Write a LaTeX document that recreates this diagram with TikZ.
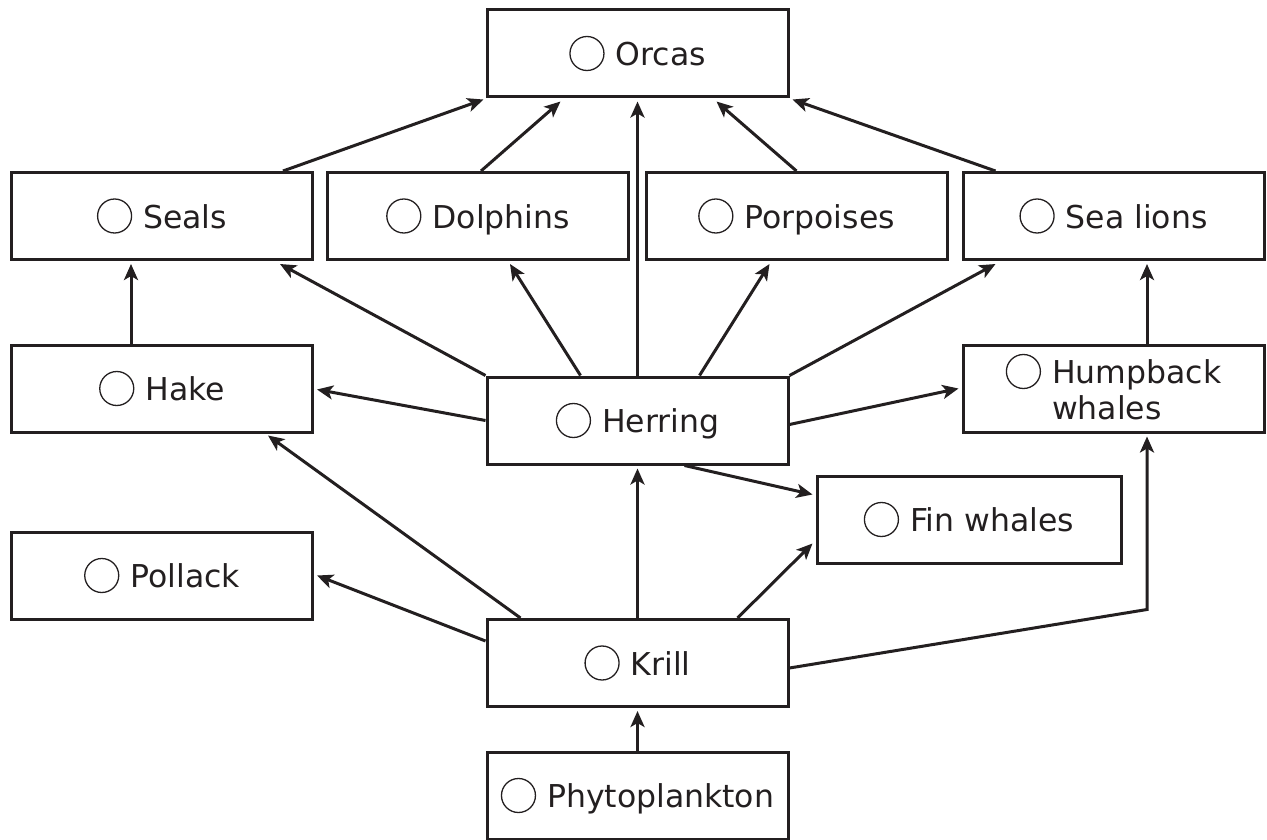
\documentclass[tikz,border=0pt]{standalone}
\usepackage{fontspec}
\setmainfont{DejaVu Sans}
\usetikzlibrary{arrows.meta,calc}
\definecolor{ink}{RGB}{35,31,32}
\newsavebox\circbox
\sbox\circbox{\tikz[baseline=0pt]{\draw[ink,line width=1.3pt] (0,12pt) circle[radius=17pt];}}
\newcommand\lbl[1]{\usebox\circbox\hspace{11pt}#1}
\begin{document}
\begin{tikzpicture}[x=1pt,y=-1pt,
  box/.style={draw=ink,line width=3pt,rectangle,minimum width=301pt,minimum height=87pt,inner sep=0pt,
    font=\fontsize{31.5}{36}\selectfont,text=ink},
  one/.style={text height=29pt,text depth=5pt},
  arr/.style={draw=ink,line width=3pt,-{Stealth[length=16pt,width=14pt,inset=4pt]}}]
\useasboundingbox (0,0) rectangle (1267,840);
\node[box,one] (orcas) at (637.5,53.5) {\lbl{Orcas}};
\node[box,one] (seals) at (162,216) {\lbl{Seals}};
\node[box,one] (dolphins) at (478,216) {\lbl{Dolphins}};
\node[box,one] (porpoises) at (796.5,216) {\lbl{Porpoises}};
\node[box,one] (sealions) at (1113.5,216) {\lbl{Sea lions}};
\node[box,one] (hake) at (162,388.5) {\lbl{Hake}};
\node[box,one] (herring) at (637.5,420.5) {\lbl{Herring}};
\node[box,text height=31pt,text depth=41pt] (humpback) at (1113.5,388.5) {\usebox\circbox\hspace{11pt}\begin{tabular}[t]{@{}l@{}}Humpback\\whales\end{tabular}};
\node[box,one,minimum width=304pt] (fin) at (969,519.5) {\lbl{Fin whales}};
\node[box,one] (pollack) at (162,575.5) {\lbl{Pollack}};
\node[box,one] (krill) at (637.5,663) {\lbl{Krill}};
\node[box,one] (phyto) at (637.5,795.5) {\lbl{Phytoplankton}};
\coordinate (bend) at ($(humpback.south)+(33.5,176)$);
% to orcas
\draw[arr] ($(seals.north)+(121,0)$) -- ($(orcas.south west)+(-2,1)$);
\draw[arr] ($(dolphins.north)+(3,0)$) -- ($(orcas.south)+(-77,3)$);
\draw[arr] (herring.north) -- ($(orcas.south)+(0,3)$);
\draw[arr] (porpoises.north) -- ($(orcas.south)+(79,3)$);
\draw[arr] ($(sealions.north)+(-118,0)$) -- ($(orcas.south east)+(3,1)$);
% to seals, dolphins, porpoises, sea lions
\draw[arr] ($(hake.north)+(-31,0)$) -- ($(seals.south)+(-31,3)$);
\draw[arr] (herring.north west) -- ($(seals.south)+(118,3)$);
\draw[arr] ($(herring.north)+(-57,0)$) -- ($(dolphins.south)+(32,3)$);
\draw[arr] ($(herring.north)+(62,0)$) -- ($(porpoises.south)+(-27,3)$);
\draw[arr] (herring.north east) -- ($(sealions.south)+(-118,3)$);
\draw[arr] ($(humpback.north)+(33.5,0)$) -- ($(sealions.south)+(33.5,3)$);
% from herring
\draw[arr] (herring.west) -- ($(hake.east)+(3,1)$);
\draw[arr] ($(herring.east)+(0,4)$) -- ($(humpback.west)+(-3,0)$);
\draw[arr] ($(herring.south)+(47,0)$) -- ($(fin.west)+(-3,-25)$);
% from krill
\draw[arr] ($(krill.north)+(-117,0)$) -- ($(hake.south)+(106,2)$);
\draw[arr] ($(krill.west)+(0,-22)$) -- ($(pollack.east)+(3,0)$);
\draw[arr] (krill.north) -- ($(herring.south)+(0,3)$);
\draw[arr] ($(krill.north)+(100,0)$) -- ($(fin.west)+(-3,24)$);
\draw[arr] ($(krill.east)+(0,5)$) -- (bend) -- ($(humpback.south)+(33.5,3)$);
\draw[arr] (phyto.north) -- ($(krill.south)+(0,3)$);
\end{tikzpicture}
\end{document}
